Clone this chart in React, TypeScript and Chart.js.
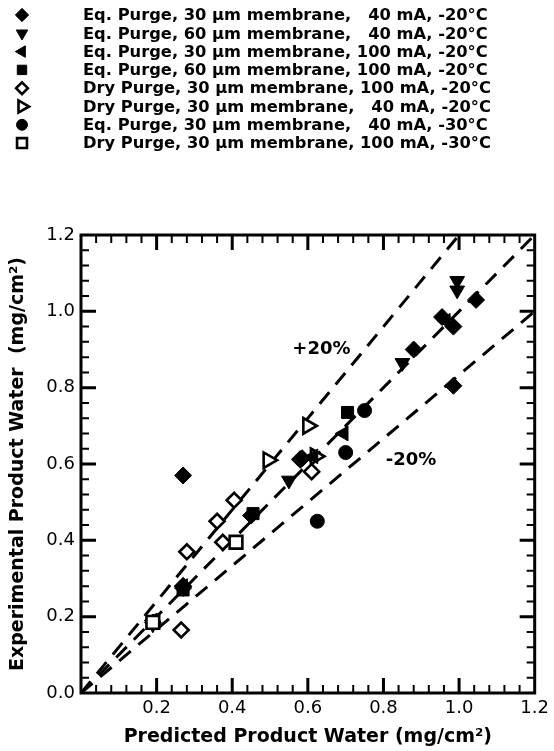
import React, { useEffect, useRef } from "react";
import { Chart, registerables } from "chart.js";
import { drawPoint } from "chart.js/helpers";

Chart.register(...registerables);

const FONT = '"DejaVu Sans", sans-serif';

// ---- legend labels ----
const seriesLabels = [
  "Eq. Purge, 30 μm membrane,   40 mA, -20°C",
  "Eq. Purge, 60 μm membrane,   40 mA, -20°C",
  "Eq. Purge, 30 μm membrane, 100 mA, -20°C",
  "Eq. Purge, 60 μm membrane, 100 mA, -20°C",
  "Dry Purge, 30 μm membrane, 100 mA, -20°C",
  "Dry Purge, 30 μm membrane,   40 mA, -20°C",
  "Eq. Purge, 30 μm membrane,   40 mA, -30°C",
  "Dry Purge, 30 μm membrane, 100 mA, -30°C",
];

// ---- series values (predicted x, experimental y) ----
const eq30_40_m20_x = [0.19, 0.27, 0.27, 0.45, 0.585, 0.88, 0.955, 0.985, 1.045, 0.985];
const eq30_40_m20_y = [0.185, 0.57, 0.275, 0.465, 0.615, 0.9, 0.985, 0.96, 1.03, 0.805];

const eq60_40_m20_x = [0.19, 0.55, 0.85, 0.995, 0.995];
const eq60_40_m20_y = [0.18, 0.557, 0.865, 1.08, 1.055];

const eq30_100_m20_x = [0.19, 0.27, 0.615, 0.695, 0.965];
const eq30_100_m20_y = [0.19, 0.28, 0.62, 0.68, 0.975];

const eq60_100_m20_x = [0.19, 0.27, 0.455, 0.705];
const eq60_100_m20_y = [0.185, 0.27, 0.47, 0.735];

const dry30_100_m20_x = [0.265, 0.27, 0.28, 0.36, 0.375, 0.405, 0.58, 0.61];
const dry30_100_m20_y = [0.165, 0.28, 0.37, 0.45, 0.395, 0.505, 0.612, 0.58];

const dry30_40_m20_x = [0.495, 0.6, 0.62];
const dry30_40_m20_y = [0.61, 0.7, 0.62];

const eq30_40_m30_x = [0.625, 0.7, 0.75];
const eq30_40_m30_y = [0.45, 0.63, 0.74];

const dry30_100_m30_x = [0.19, 0.41];
const dry30_100_m30_y = [0.185, 0.395];

// ---- reference lines ----
const parityX = [0, 1.2];
const parityY = [0, 1.2];
const plus20X = [0, 1.0];
const plus20Y = [0, 1.2];
const minus20X = [0, 1.2];
const minus20Y = [0, 1.0];

// ---- annotation labels ----
const noteTexts = ["+20%", "-20%"];
const noteX = [0.636, 0.873];
const noteY = [0.9, 0.61];

// ---- axes ----
const axisMin = 0;
const axisMax = 1.2;
const majorStep = 0.2;
const minorStep = 0.04;

const xTitle = "Predicted Product Water (mg/cm²)";
const yTitle = "Experimental Product Water  (mg/cm²)";

type Marker = { style: string; rotation: number; fill: string; radius: number; border: number };
const markers: Marker[] = [
  { style: "rectRot", rotation: 0, fill: "#000", radius: 8.5, border: 1 },
  { style: "triangle", rotation: 180, fill: "#000", radius: 8.5, border: 1 },
  { style: "triangle", rotation: -90, fill: "#000", radius: 8.5, border: 1 },
  { style: "rect", rotation: 0, fill: "#000", radius: 8.5, border: 1 },
  { style: "rectRot", rotation: 0, fill: "#fff", radius: 7.5, border: 2.6 },
  { style: "triangle", rotation: 90, fill: "#fff", radius: 9, border: 2.6 },
  { style: "circle", rotation: 0, fill: "#000", radius: 7, border: 1 },
  { style: "rect", rotation: 0, fill: "#fff", radius: 9, border: 2.6 },
];
const markerOrder = [3, 4, 4, 4, 6, 5, 3, 0];

const seriesX = [eq30_40_m20_x, eq60_40_m20_x, eq30_100_m20_x, eq60_100_m20_x, dry30_100_m20_x, dry30_40_m20_x, eq30_40_m30_x, dry30_100_m30_x];
const seriesY = [eq30_40_m20_y, eq60_40_m20_y, eq30_100_m20_y, eq60_100_m20_y, dry30_100_m20_y, dry30_40_m20_y, eq30_40_m30_y, dry30_100_m30_y];

const toPoints = (xs: number[], ys: number[]) => xs.map((x, i) => ({ x, y: ys[i] }));

const framePlugin = {
  id: "frameTicks",
  afterDatasetsDraw(chart: any) {
    const { ctx, chartArea } = chart;
    const { left, right, top, bottom } = chartArea;
    const xs = chart.scales.x;
    const ys = chart.scales.y;
    ctx.save();
    ctx.strokeStyle = "#000";
    ctx.lineCap = "butt";
    const n = Math.round((axisMax - axisMin) / minorStep);
    const per = Math.round(majorStep / minorStep);
    for (let i = 1; i < n; i++) {
      const v = axisMin + i * minorStep;
      const major = i % per === 0;
      const len = major ? 15 : 8;
      ctx.lineWidth = major ? 3 : 2;
      const px = xs.getPixelForValue(v);
      const py = ys.getPixelForValue(v);
      ctx.beginPath();
      ctx.moveTo(px, bottom); ctx.lineTo(px, bottom - len);
      ctx.moveTo(px, top); ctx.lineTo(px, top + len);
      ctx.moveTo(left, py); ctx.lineTo(left + len, py);
      ctx.moveTo(right, py); ctx.lineTo(right - len, py);
      ctx.stroke();
    }
    ctx.lineWidth = 3;
    ctx.strokeRect(left, top, right - left, bottom - top);

    ctx.fillStyle = "#000";
    ctx.font = `bold 18px ${FONT}`;
    ctx.textAlign = "center";
    ctx.textBaseline = "middle";
    noteTexts.forEach((t, i) => {
      ctx.fillText(t, xs.getPixelForValue(noteX[i]), ys.getPixelForValue(noteY[i]));
    });
    ctx.restore();
  },
};

const legendPlugin = {
  id: "customLegend",
  afterDraw(chart: any) {
    const { ctx } = chart;
    ctx.save();
    const rowTop = 15;
    const rowStep = 18.3;
    seriesLabels.forEach((label, i) => {
      const m = markers[i];
      const yy = rowTop + i * rowStep;
      ctx.fillStyle = m.fill;
      ctx.strokeStyle = "#000";
      ctx.lineWidth = m.border;
      drawPoint(ctx, { pointStyle: m.style as any, rotation: m.rotation, radius: m.radius * 0.78, borderWidth: m.border }, 22, yy);
      ctx.fillStyle = "#000";
      ctx.font = `bold 16.3px ${FONT}`;
      ctx.textAlign = "left";
      ctx.textBaseline = "middle";
      ctx.fillText(label, 83, yy + 1);
    });
    ctx.restore();
  },
};

export default function App() {
  const ref = useRef<HTMLCanvasElement>(null);
  useEffect(() => {
    document.body.style.margin = "0";
    const lineDs = (xs: number[], ys: number[]) => ({
      data: toPoints(xs, ys),
      showLine: true,
      borderColor: "#000",
      borderWidth: 3,
      borderDash: [15, 10],
      pointRadius: 0,
      fill: false,
      order: 10,
    });
    const scatterDs = seriesX.map((xs, i) => ({
      label: seriesLabels[i],
      data: toPoints(xs, seriesY[i]),
      pointStyle: markers[i].style,
      rotation: markers[i].rotation,
      pointRadius: markers[i].radius,
      pointBackgroundColor: markers[i].fill,
      pointBorderColor: "#000",
      pointBorderWidth: markers[i].border,
      showLine: false,
      order: markerOrder[i],
    }));
    const chart = new Chart(ref.current as HTMLCanvasElement, {
      type: "scatter",
      data: {
        datasets: [lineDs(parityX, parityY), lineDs(plus20X, plus20Y), lineDs(minus20X, minus20Y), ...scatterDs] as any,
      },
      options: {
        animation: false,
        responsive: true,
        maintainAspectRatio: false,
        layout: { padding: { top: 235, right: 18, left: 0, bottom: 0 } },
        plugins: { legend: { display: false }, tooltip: { enabled: false } },
        scales: {
          x: {
            type: "linear",
            min: axisMin,
            max: axisMax,
            grid: { display: false, drawTicks: false },
            border: { display: false },
            ticks: {
              stepSize: majorStep,
              autoSkip: false,
              maxRotation: 0,
              padding: 5,
              color: "#000",
              font: { family: FONT, size: 18 },
              callback: (v: any) => (Math.abs(v) < 1e-9 ? "" : Number(v).toFixed(1)),
            },
            title: {
              display: true,
              text: xTitle,
              color: "#000",
              font: { family: FONT, size: 19, weight: "bold" },
              padding: { top: 0, bottom: 3 },
            },
            afterFit: (s: any) => { s.height = 58; },
          },
          y: {
            type: "linear",
            min: axisMin,
            max: axisMax,
            grid: { display: false, drawTicks: false },
            border: { display: false },
            ticks: {
              stepSize: majorStep,
              autoSkip: false,
              padding: 6,
              color: "#000",
              font: { family: FONT, size: 18 },
              callback: (v: any) => Number(v).toFixed(1),
            },
            title: {
              display: true,
              text: yTitle,
              color: "#000",
              font: { family: FONT, size: 19, weight: "bold" },
              padding: { top: 7, bottom: 0 },
            },
            afterFit: (s: any) => { s.width = 81; },
          },
        },
      },
      plugins: [framePlugin, legendPlugin],
    } as any);
    return () => chart.destroy();
  }, []);
  return (
    <div style={{ position: "relative", width: 554, height: 751, background: "#fff" }}>
      <canvas ref={ref} />
    </div>
  );
}
